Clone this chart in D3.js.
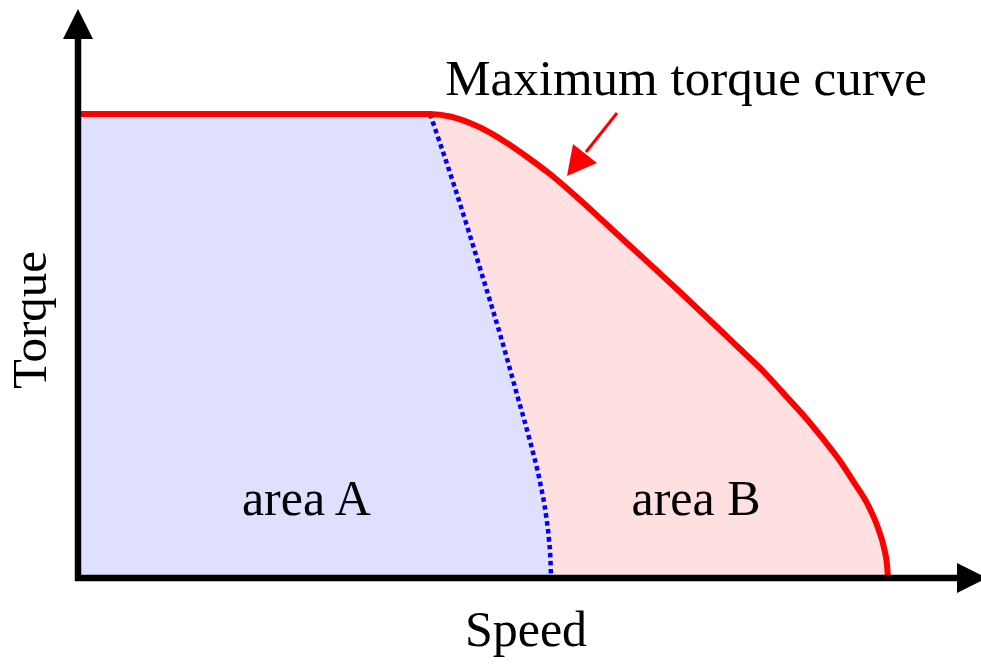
<!DOCTYPE html>
<html>
<head>
<meta charset="utf-8">
<script src="https://cdn.jsdelivr.net/npm/d3@7"></script>
<style>
  body { margin: 0; background: #fff; }
</style>
</head>
<body>
<div id="chart"></div>
<script>
// speed / torque in % of max
let maxSpeed = [0, 43.46, 45.93, 48.40, 50.86, 53.33, 55.80, 58.27, 60.74, 63.21, 65.68, 69.38, 74.32, 78.89, 81.73, 84.57, 87.28, 89.75, 91.98, 94.07, 95.93, 97.53, 98.77, 99.51, 99.88, 100];
let maxTorque = [100, 100, 99.46, 98.06, 96.01, 93.32, 90.30, 87.07, 83.41, 79.53, 75.54, 69.61, 61.64, 54.09, 49.35, 44.61, 39.44, 34.70, 29.96, 25.22, 20.26, 15.73, 10.78, 6.47, 2.80, 0];

let borderSpeed = [43.46, 46.54, 50.00, 52.10, 54.32, 55.80, 57.04, 57.78, 58.15, 58.33, 58.40];
let borderTorque = [100, 84.05, 64.66, 52.59, 38.79, 29.53, 20.69, 13.58, 8.19, 3.88, 0];

let areaLabels = [
    {text: "area A", speed: 28.2, torque: 13.5},
    {text: "area B", speed: 76.3, torque: 13.5}
];

let font = '"Liberation Serif"';
let baseSize = 30;   // big sizes fall back to sans here, so scale a 30px glyph up

let width = 981, height = 665;

let svg = d3.select("#chart").append("svg")
    .attr("width", width)
    .attr("height", height);

let x = d3.scaleLinear().domain([0, 100]).range([78, 888]);
let y = d3.scaleLinear().domain([0, 100]).range([578, 114]);

let maxData = maxSpeed.map((s, i) => ({s: s, t: maxTorque[i]}));
let borderData = borderSpeed.map((s, i) => ({s: s, t: borderTorque[i]}));

let curve = d3.curveMonotoneX;

// pink region: everything under the max torque curve
svg.append("path")
    .datum(maxData)
    .attr("fill", "#ffdfdf")
    .attr("d", d3.area()
        .x(d => x(d.s))
        .y0(y(0))
        .y1(d => y(d.t))
        .curve(curve));

// blue region: left of the border curve
svg.append("rect")
    .attr("x", x(0))
    .attr("y", y(100))
    .attr("width", x(borderSpeed[0]) - x(0) + 0.5)
    .attr("height", y(0) - y(100))
    .attr("fill", "#dfdfff");

svg.append("path")
    .datum(borderData)
    .attr("fill", "#dfdfff")
    .attr("d", d3.area()
        .x(d => x(d.s))
        .y0(y(0))
        .y1(d => y(d.t))
        .curve(curve));

// border line, dotted
svg.append("path")
    .datum(borderData)
    .attr("fill", "none")
    .attr("stroke", "#0000ff")
    .attr("stroke-width", 4.5)
    .attr("stroke-dasharray", "4.5,3.5")
    .attr("d", d3.line()
        .x(d => x(d.s))
        .y(d => y(d.t))
        .curve(curve));

// max torque curve
svg.append("path")
    .datum(maxData)
    .attr("fill", "none")
    .attr("stroke", "#ff0000")
    .attr("stroke-width", 6)
    .attr("d", d3.line()
        .x(d => x(d.s))
        .y(d => y(d.t))
        .curve(curve));

// axes with arrow heads
let ox = x(0), oy = y(0);
let yTop = 9, xEnd = 987, head = 30, half = 15;

svg.append("line")
    .attr("x1", ox).attr("y1", oy + 3)
    .attr("x2", ox).attr("y2", yTop + head)
    .attr("stroke", "#000").attr("stroke-width", 6.5);
svg.append("path")
    .attr("d", `M${ox},${yTop} L${ox - half},${yTop + head} L${ox + half},${yTop + head} Z`)
    .attr("fill", "#000");

svg.append("line")
    .attr("x1", ox - 3).attr("y1", oy)
    .attr("x2", xEnd - head).attr("y2", oy)
    .attr("stroke", "#000").attr("stroke-width", 6.5);
svg.append("path")
    .attr("d", `M${xEnd},${oy} L${xEnd - head},${oy - half} L${xEnd - head},${oy + half} Z`)
    .attr("fill", "#000");

// text helper: serif text at a given size, anchored at (tx, ty)
function label(str, tx, ty, size, rotate) {
    let k = size / baseSize;
    svg.append("text")
        .attr("transform", `translate(${tx},${ty}) rotate(${rotate || 0}) scale(${k})`)
        .attr("text-anchor", "middle")
        .attr("font-family", font)
        .attr("font-size", baseSize)
        .text(str);
}

label("Speed", 526, 646, 50);
label("Torque", 46, 320, 49, -90);

areaLabels.forEach(d => label(d.text, x(d.speed), y(d.torque), 50));

// annotation
label("Maximum torque curve", 686, 95, 51);

svg.append("line")
    .attr("x1", 617).attr("y1", 113)
    .attr("x2", 586).attr("y2", 152)
    .attr("stroke", "#ff0000").attr("stroke-width", 3);
svg.append("path")
    .attr("d", "M567,176 L573,144 L597,163 Z")
    .attr("fill", "#ff0000");
</script>
</body>
</html>
